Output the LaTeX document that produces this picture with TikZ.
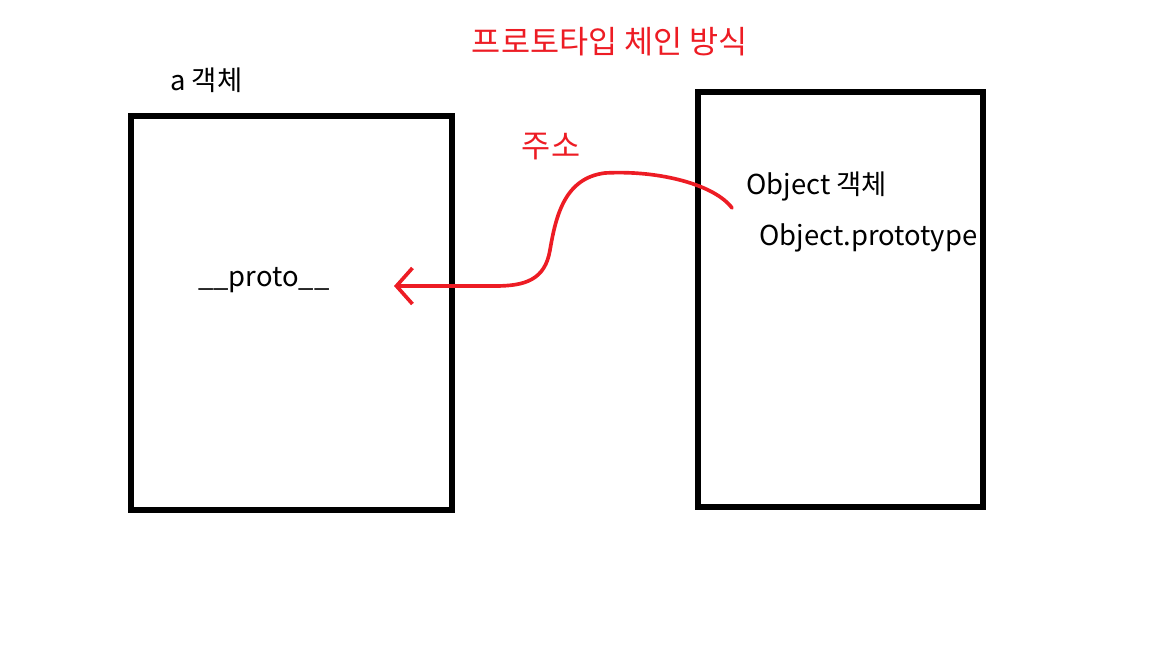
\documentclass[tikz,border=0pt]{standalone}
\usepackage{fontspec}
\setmainfont{Noto Sans CJK KR}
\usetikzlibrary{arrows.meta, positioning}
\definecolor{paintred}{RGB}{237,28,36}

\begin{document}
\begin{tikzpicture}[
		x=0.025cm, y=-0.025cm,
		objbox/.style={draw=black, line width=4pt, inner sep=0pt},
		lbl/.style={inner sep=0pt, font=\fontsize{19.5}{23}\selectfont},
		redlbl/.style={inner sep=0pt, text=paintred, font=\fontsize{22.5}{26}\selectfont},
		linkarrow/.style={-{Straight Barb[length=0.4cm, width=0.9cm, line width=2.6pt]}, line width=2.6pt, paintred, line cap=round, line join=round}
	]
	\useasboundingbox (0,0) rectangle (1152,648);
	% the two objects
	\node[objbox, minimum width=8.025cm, minimum height=9.85cm] (aobj) at (291.5,313) {};
	\node[objbox, minimum width=7.125cm, minimum height=10.375cm] (objobj) at (840.5,299.5) {};
	% texts
	\node[redlbl] (title) at (610,42) {프로토타입 체인 방식};
	\node[lbl, anchor=west] (aname) at (170,80) {a 객체};
	\node[redlbl] (addr) at (551,147) {주소};
	\node[lbl, anchor=west] (objname) at (746,186) {Object 객체};
	\node[lbl, anchor=west] (objproto) at (759,238) {Object.prototype};
	\node[lbl, anchor=west] (proto) at (198,280) {\_\_proto\_\_};
	% link from Object.prototype to __proto__
	\coordinate (src) at (732,208);
	\coordinate (dst) at (394,286);
	\draw[linkarrow] (src) .. controls (715,185) and (660,170) .. (605,173)
		.. controls (565,178) and (556,215) .. (550,250)
		.. controls (545,280) and (525,286) .. (495,286) -- (dst);
\end{tikzpicture}
\end{document}
